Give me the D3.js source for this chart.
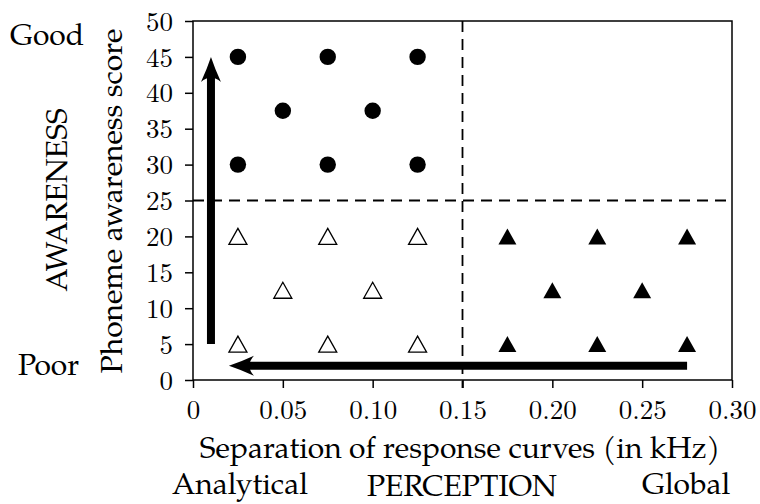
<!DOCTYPE html>
<html>
<head>
<meta charset="utf-8">
<script src="https://cdn.jsdelivr.net/npm/d3@7"></script>
<style>
  body { margin: 0; background: #fff; }
  svg { display: block; }
</style>
</head>
<body>
<svg id="chart" width="760" height="504"></svg>
<script>
// data
const circleX = [0.025, 0.075, 0.125, 0.05, 0.10, 0.025, 0.075, 0.125]
const circleY = [45, 45, 45, 37.5, 37.5, 30, 30, 30]
const openTriX = [0.025, 0.075, 0.125, 0.05, 0.10, 0.025, 0.075, 0.125]
const openTriY = [20, 20, 20, 12.5, 12.5, 5, 5, 5]
const fillTriX = [0.175, 0.225, 0.275, 0.20, 0.25, 0.175, 0.225, 0.275]
const fillTriY = [20, 20, 20, 12.5, 12.5, 5, 5, 5]
const xTicks = [0, 0.05, 0.10, 0.15, 0.20, 0.25, 0.30]
const xTickLabels = ['0', '0.05', '0.10', '0.15', '0.20', '0.25', '0.30']
const yTicks = [0, 5, 10, 15, 20, 25, 30, 35, 40, 45, 50]
const xSplit = 0.15
const ySplit = 25
// arrows: [x1, y1] -> [x2, y2] (tip at the second point)
const upArrow = [[0.01, 5], [0.01, 45]]
const leftArrow = [[0.275, 2], [0.02, 2]]

const labelFont = '"TeX Gyre Pagella", "Liberation Serif", serif'
const tickFont = '"Latin Modern Roman", "CMU Serif", "Liberation Serif", serif'

const svg = d3.select('#chart')
const margin = { left: 193, top: 21, right: 28, bottom: 124 }
const W = 760 - margin.left - margin.right
const H = 504 - margin.top - margin.bottom

const x = d3.scaleLinear().domain([0, 0.30]).range([0, W])
const y = d3.scaleLinear().domain([0, 50]).range([H, 0])

const g = svg.append('g').attr('transform', `translate(${margin.left},${margin.top})`)

// frame
g.append('rect')
  .attr('x', 0).attr('y', 0).attr('width', W).attr('height', H)
  .attr('fill', 'none').attr('stroke', '#000').attr('stroke-width', 1.5)

// axes
const xAxis = g.append('g').attr('transform', `translate(0,${H})`)
  .call(d3.axisBottom(x).tickValues(xTicks).tickSize(8).tickPadding(11)
    .tickFormat((d, i) => xTickLabels[i]))
const yAxis = g.append('g')
  .call(d3.axisLeft(y).tickValues(yTicks).tickSize(8).tickPadding(12).tickFormat(d3.format('d')))

;[xAxis, yAxis].forEach(a => {
  a.attr('font-family', null).attr('font-size', null)
  a.select('.domain').remove()
  a.selectAll('line').attr('stroke', '#000').attr('stroke-width', 1.5)
  a.selectAll('text').style('font-family', tickFont)
    .style('font-size', '27px').attr('fill', '#000')
})
xAxis.selectAll('text').attr('dy', '0.74em')
yAxis.selectAll('text').attr('dy', '0.34em')

// dashed quadrant lines
g.append('line')
  .attr('x1', x(xSplit)).attr('x2', x(xSplit)).attr('y1', 0).attr('y2', H + 8)
  .attr('stroke', '#000').attr('stroke-width', 1.8).attr('stroke-dasharray', '11,7')
g.append('line')
  .attr('x1', 0).attr('x2', W).attr('y1', y(ySplit)).attr('y2', y(ySplit))
  .attr('stroke', '#000').attr('stroke-width', 1.8).attr('stroke-dasharray', '11,7')

// barbed arrow (latex style)
const drawArrow = (pts) => {
  const [p0, p1] = pts.map(p => [x(p[0]), y(p[1])])
  const ang = Math.atan2(p1[1] - p0[1], p1[0] - p0[0]) * 180 / Math.PI
  const len = Math.hypot(p1[0] - p0[0], p1[1] - p0[1])
  const a = g.append('g')
    .attr('transform', `translate(${p0[0]},${p0[1]}) rotate(${ang})`)
  a.append('line')
    .attr('x1', 0).attr('x2', len - 14).attr('y1', 0).attr('y2', 0)
    .attr('stroke', '#000').attr('stroke-width', 8)
  const L = 25, hw = 10
  a.append('path')
    .attr('d', `M${len},0 Q${len - 12},4 ${len - L},${hw} Q${len - L + 9},0 ${len - L},${-hw} Q${len - 12},-4 ${len},0 Z`)
    .attr('fill', '#000')
}
drawArrow(upArrow)
drawArrow(leftArrow)

// markers
const tri = 'M0,-8L9,8L-9,8Z'

g.selectAll('circle.pt').data(d3.zip(circleX, circleY)).join('circle')
  .attr('class', 'pt')
  .attr('cx', d => x(d[0])).attr('cy', d => y(d[1])).attr('r', 8.2)
  .attr('fill', '#000')

g.selectAll('path.open').data(d3.zip(openTriX, openTriY)).join('path')
  .attr('class', 'open')
  .attr('transform', d => `translate(${x(d[0])},${y(d[1])})`)
  .attr('d', tri).attr('fill', '#fff').attr('stroke', '#000').attr('stroke-width', 1.3)

g.selectAll('path.filled').data(d3.zip(fillTriX, fillTriY)).join('path')
  .attr('class', 'filled')
  .attr('transform', d => `translate(${x(d[0])},${y(d[1])})`)
  .attr('d', tri).attr('fill', '#000')

// labels
const label = (txt, tx, ty, anchor, rot) => svg.append('text')
  .attr('transform', `translate(${tx},${ty})` + (rot ? ` rotate(${rot})` : ''))
  .attr('text-anchor', anchor)
  .attr('fill', '#000')
  .style('font-family', labelFont)
  .style('font-size', '30px')
  .text(txt)

label('Separation of response curves (in kHz)', 460, 458, 'middle')
label('Analytical', 172, 494, 'start')
label('PERCEPTION', 462, 496, 'middle')
label('Global', 642, 494, 'start')
label('Good', 10, 45, 'start')
label('Poor', 18, 375, 'start')
label('AWARENESS', 67, 200, 'middle', -90)
label('Phoneme awareness score', 122, 201, 'middle', -90)
</script>
</body>
</html>
